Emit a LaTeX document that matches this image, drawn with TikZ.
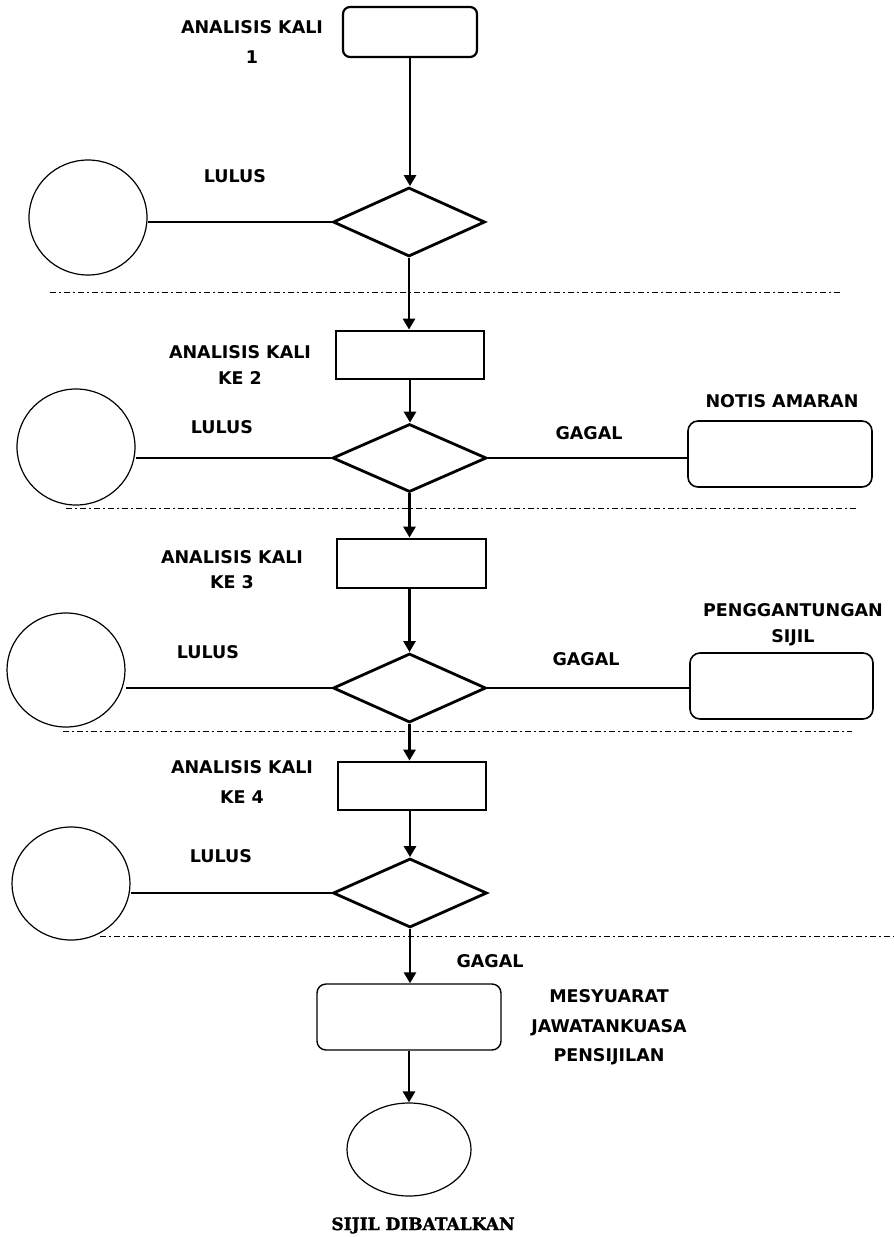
\documentclass[tikz,border=0pt]{standalone}
\usepackage{fontspec}
\setmainfont{DejaVu Sans}
\newfontfamily\slabfont[BoldFont={DejaVu Serif Bold},BoldFeatures={FakeBold=1.5}]{DejaVu Serif}
\usetikzlibrary{shapes.geometric,arrows.meta}

\begin{document}
\begin{tikzpicture}[x=1pt,y=-1pt,
  flow/.style={line width=2.8pt,-{Triangle[length=11pt,width=12pt]}},
  link/.style={line width=2.8pt},
  decision/.style={draw,diamond,line width=2.8pt,inner sep=0pt,minimum width=153pt,minimum height=69pt},
  process/.style={draw,rectangle,line width=2.8pt,inner sep=0pt,minimum width=148pt,minimum height=48pt},
  roundbox/.style={draw,rectangle,rounded corners=9pt,line width=1.6pt,inner sep=0pt,minimum width=184pt,minimum height=66pt},
  terminal/.style={draw,ellipse,line width=1.2pt,inner sep=0pt,minimum width=118pt,minimum height=115pt},
  separator/.style={line width=1pt,dash pattern=on 6pt off 3pt on 2pt off 3pt},
  lbl/.style={font=\bfseries\fontsize{17.5}{27}\selectfont,align=center,inner sep=0pt}
]
\useasboundingbox (0,0) rectangle (894,1237);

% stage 1
\node[draw,rectangle,rounded corners=7pt,line width=2.2pt,inner sep=0pt,
      minimum width=134pt,minimum height=50pt] (b1) at (410,32) {};
\node[lbl,font=\bfseries\fontsize{17.5}{30}\selectfont] (t1) at (252,42) {ANALISIS KALI\\1};
\node[decision,minimum width=152pt] (d1) at (409,222) {};
\node[terminal] (c1) at (88,217.5) {};
\node[lbl] (l1) at (235,176) {LULUS};
\draw[flow] (b1.south) -- (b1.south |- d1.north);
\draw[link] (d1.west) -- (c1.east |- d1.west);
\draw[separator] (50,292) coordinate (s1a) -- (840,292) coordinate (s1b);

% stage 2
\node[process] (b2) at (410,355) {};
\node[lbl,font=\bfseries\fontsize{17.5}{26}\selectfont] (t2) at (240,365) {ANALISIS KALI\\KE 2};
\draw[flow] (d1.south) -- (d1.south |- b2.north);
\node[decision,minimum width=154pt,minimum height=68pt] (d2) at (409.5,458) {};
\draw[flow] (b2.south) -- (b2.south |- d2.north);
\node[terminal,minimum height=116pt] (c2) at (76,447) {};
\node[lbl] (l2) at (222,427) {LULUS};
\draw[link] (d2.west) -- (c2.east |- d2.west);
\node[roundbox,rounded corners=10pt] (n2) at (780,454) {};
\node[lbl] (g2) at (589,433) {GAGAL};
\node[lbl] (tn) at (782,401) {NOTIS AMARAN};
\draw[link] (d2.east) -- (d2.east -| n2.west);
\draw[separator] (66,508) coordinate (s2a) -- (856,508) coordinate (s2b);

% stage 3
\node[process,minimum width=149pt,minimum height=49pt] (b3) at (411.5,563.5) {};
\node[lbl,font=\bfseries\fontsize{17.5}{25}\selectfont] (t3) at (232,569.5) {ANALISIS KALI\\KE 3};
\draw[flow] (d2.south) -- (d2.south |- b3.north);
\node[decision] (d3) at (409.5,688) {};
\draw[flow] (b3.south -| d3.north) -- (d3.north);
\node[terminal,minimum height=114pt] (c3) at (66,670) {};
\node[lbl] (l3) at (208,652) {LULUS};
\draw[link] (d3.west) -- (c3.east |- d3.west);
\node[roundbox,rounded corners=10pt,minimum width=183pt] (p3) at (781.5,686) {};
\node[lbl] (g3) at (586,659) {GAGAL};
\node[lbl,font=\bfseries\fontsize{17.5}{26}\selectfont] (tp) at (793,625) {PENGGANTUNGAN\\SIJIL};
\draw[link] (d3.east) -- (d3.east -| p3.west);
\draw[separator] (63,731) coordinate (s3a) -- (852,731) coordinate (s3b);

% stage 4
\node[process] (b4) at (412,786) {};
\node[lbl,font=\bfseries\fontsize{17.5}{30}\selectfont] (t4) at (242,782) {ANALISIS KALI\\KE 4};
\draw[flow] (d3.south) -- (d3.south |- b4.north);
\node[decision,minimum width=154pt] (d4) at (410,893) {};
\draw[flow] (b4.south -| d4.north) -- (d4.north);
\node[terminal,minimum height=113pt] (c4) at (71,883.5) {};
\node[lbl] (l4) at (221,856) {LULUS};
\draw[link] (d4.west) -- (c4.east |- d4.west);
\draw[separator] (100,936) coordinate (s4a) -- (894,936) coordinate (s4b);

% committee and outcome
\node[roundbox,line width=1.4pt] (b5) at (409,1017) {};
\node[lbl] (g5) at (490,961) {GAGAL};
\node[lbl,font=\bfseries\fontsize{17.5}{29.5}\selectfont] (tm) at (609,1027.5) {MESYUARAT\\JAWATANKUASA\\PENSIJILAN};
\draw[flow] (d4.south) -- (d4.south |- b5.north);
\node[terminal,minimum width=124pt,minimum height=93pt] (e) at (409,1149.5) {};
\draw[flow] (b5.south) -- (b5.south |- e.north);
\node[inner sep=0pt,anchor=base,font=\slabfont\bfseries\fontsize{17}{20}\selectfont] (ts) at (423,1230) {SIJIL DIBATALKAN};
\end{tikzpicture}
\end{document}
